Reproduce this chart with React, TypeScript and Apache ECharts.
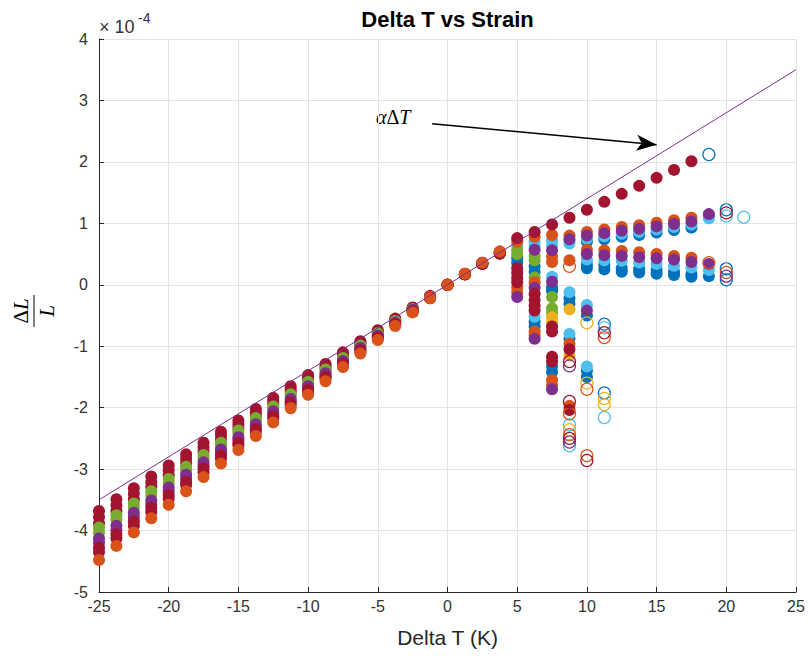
import React, { useEffect, useRef } from "react";
import * as echarts from "echarts";

// MATLAB default colour order
const BLUE = "#0072BD";
const ORANGE = "#D95319";
const YELLOW = "#EDB120";
const PURPLE = "#7E2F8E";
const GREEN = "#77AC30";
const LIGHT_BLUE = "#4DBEEE";
const DARK_RED = "#A2142F";

// Temperature steps shared by the cooling sweep (K)
const deltaT = [
  -25, -23.75, -22.5, -21.25, -20, -18.75, -17.5, -16.25, -15, -13.75, -12.5, -11.25,
  -10, -8.75, -7.5, -6.25, -5, -3.75, -2.5, -1.25, 0, 1.25, 2.5, 3.75,
];

// Strain (x1e-4) of each specimen along the cooling sweep, top to bottom
const strain1 = [-3.68, -3.49, -3.31, -3.12, -2.94, -2.76, -2.57, -2.39, -2.21, -2.02, -1.84, -1.65, -1.47, -1.29, -1.1, -0.92, -0.74, -0.55, -0.37, -0.18, 0, 0.18, 0.36, 0.54];
const strain2 = [-3.78, -3.59, -3.4, -3.21, -3.02, -2.83, -2.64, -2.45, -2.27, -2.08, -1.89, -1.7, -1.51, -1.32, -1.13, -0.94, -0.76, -0.57, -0.38, -0.19, 0, 0.17, 0.35, 0.52];
const strain3 = [-3.88, -3.68, -3.49, -3.29, -3.1, -2.91, -2.71, -2.52, -2.33, -2.13, -1.94, -1.74, -1.55, -1.36, -1.16, -0.97, -0.78, -0.58, -0.39, -0.19, 0, 0.17, 0.35, 0.52];
const strain4 = [-3.95, -3.75, -3.56, -3.36, -3.16, -2.96, -2.77, -2.57, -2.37, -2.17, -1.98, -1.78, -1.58, -1.38, -1.19, -0.99, -0.79, -0.59, -0.4, -0.2, 0, 0.17, 0.34, 0.52];
const strain5 = [-4.03, -3.82, -3.62, -3.42, -3.22, -3.02, -2.82, -2.62, -2.42, -2.21, -2.01, -1.81, -1.61, -1.41, -1.21, -1.01, -0.81, -0.6, -0.4, -0.2, 0, 0.17, 0.34, 0.51];
const strain6 = [-4.13, -3.92, -3.71, -3.51, -3.3, -3.09, -2.89, -2.68, -2.48, -2.27, -2.06, -1.86, -1.65, -1.44, -1.24, -1.03, -0.83, -0.62, -0.41, -0.21, 0, 0.17, 0.34, 0.51];
const strain7 = [-4.2, -3.99, -3.78, -3.57, -3.36, -3.15, -2.94, -2.73, -2.52, -2.31, -2.1, -1.89, -1.68, -1.47, -1.26, -1.05, -0.84, -0.63, -0.42, -0.21, 0, 0.17, 0.34, 0.51];
const strain8 = [-4.28, -4.06, -3.85, -3.63, -3.42, -3.21, -2.99, -2.78, -2.57, -2.35, -2.14, -1.92, -1.71, -1.5, -1.28, -1.07, -0.86, -0.64, -0.43, -0.21, 0, 0.17, 0.34, 0.51];
const strain9 = [-4.35, -4.13, -3.92, -3.7, -3.48, -3.26, -3.05, -2.83, -2.61, -2.39, -2.18, -1.96, -1.74, -1.52, -1.31, -1.09, -0.87, -0.65, -0.44, -0.22, 0, 0.17, 0.35, 0.52];
const strain10 = [-4.48, -4.25, -4.03, -3.8, -3.58, -3.36, -3.13, -2.91, -2.69, -2.46, -2.24, -2.01, -1.79, -1.57, -1.34, -1.12, -0.9, -0.67, -0.45, -0.22, 0, 0.18, 0.36, 0.54];

const coolingSets = [
  { color: DARK_RED, y: strain1 },
  { color: DARK_RED, y: strain2 },
  { color: DARK_RED, y: strain3 },
  { color: GREEN, y: strain4 },
  { color: GREEN, y: strain5 },
  { color: PURPLE, y: strain6 },
  { color: PURPLE, y: strain7 },
  { color: DARK_RED, y: strain8 },
  { color: DARK_RED, y: strain9 },
  { color: ORANGE, y: strain10 },
];

// Heating sweep: [deltaT, strain x1e-4], filled markers
const heatBlue = [
  [10, 0.7], [11.25, 0.74], [12.5, 0.78], [13.75, 0.81], [15, 0.85], [16.25, 0.89], [17.5, 0.93], [18.75, 1.12],
  [10, 0.33], [10, 0.27], [11.25, 0.32], [11.25, 0.25], [12.5, 0.27], [12.5, 0.21], [13.75, 0.26], [13.75, 0.2],
  [15, 0.24], [15, 0.18], [16.25, 0.21], [16.25, 0.16], [17.5, 0.17], [17.5, 0.13], [18.75, 0.14],
  [5, 0.43], [5, 0.36], [6.25, 0.3], [6.25, 0.21], [6.25, -0.6], [6.25, -0.68], [7.5, -0.04], [7.5, -0.1],
  [7.5, -1.33], [7.5, -1.42], [8.75, -0.22], [8.75, -0.31], [8.75, -0.88], [10, -0.5], [10, -1.4], [10, -1.5],
];
const heatLightBlue = [
  [5, 0.64], [6.25, 0.7], [6.25, 0.64], [7.5, 0.72], [7.5, 0.64], [8.75, 0.72], [8.75, 0.67], [10, 0.75],
  [11.25, 0.79], [12.5, 0.83], [13.75, 0.86], [15, 0.9], [16.25, 0.94], [17.5, 0.98], [18.75, 1.08],
  [10, 0.41], [11.25, 0.4], [12.5, 0.39], [13.75, 0.36], [15, 0.34], [16.25, 0.31], [17.5, 0.28], [18.75, 0.24],
  [7.5, 0.13], [8.75, -0.12], [8.75, -0.8], [10, -0.33], [10, -1.33], [6.25, -0.52],
];
const heatGreen = [
  [5, 0.56], [5, 0.5], [6.25, 0.47], [6.25, 0.4], [6.25, 0.12], [7.5, -0.2], [7.5, -0.38], [7.5, -0.45],
];
const heatYellow = [
  [7.5, -0.53], [7.5, -0.6], [8.75, -0.4], [8.75, -1.15],
];
const heatOrange = [
  [6.25, 0.78], [7.5, 0.81], [8.75, 0.8], [10, 0.86], [11.25, 0.9], [12.5, 0.94], [13.75, 0.97], [15, 1.01],
  [16.25, 1.05], [17.5, 1.09],
  [7.5, 0.46], [7.5, 0.37], [8.75, 0.4], [10, 0.57], [11.25, 0.56], [12.5, 0.55], [13.75, 0.53], [15, 0.5],
  [16.25, 0.47], [17.5, 0.44],
  [5, 0.7], [5, -0.04], [5, -0.12], [6.25, 0.04], [6.25, -0.76], [6.25, -0.82], [7.5, -1.55], [7.5, -1.63],
  [8.75, -0.96], [8.75, -1.97],
];
const heatPurple = [
  [8.75, 0.74], [10, 0.8], [11.25, 0.84], [12.5, 0.88], [13.75, 0.91], [15, 0.95], [16.25, 0.99], [17.5, 1.03], [18.75, 1.15],
  [10, 0.5], [11.25, 0.48], [12.5, 0.47], [13.75, 0.45], [15, 0.43], [16.25, 0.41], [17.5, 0.37], [18.75, 0.34],
  [5, -0.2], [6.25, 0.57], [6.25, -0.05], [6.25, -0.88], [7.5, 0.56], [7.5, 0.05], [7.5, -1.7], [10, -0.42],
];
const heatDarkRed = [
  [5, 0.76], [6.25, 0.86], [7.5, 0.98], [8.75, 1.09], [10, 1.22], [11.25, 1.35], [12.5, 1.48], [13.75, 1.61],
  [15, 1.74], [16.25, 1.87], [17.5, 2.01],
  [5, 0.27], [5, 0.19], [5, 0.11], [5, 0.04], [6.25, -0.15], [6.25, -0.25], [6.25, -0.34], [6.25, -0.42],
  [7.5, -0.68], [7.5, -0.76], [7.5, -1.17], [7.5, -1.25], [8.75, -1.05], [8.75, -2.04],
];

// Heating sweep, open markers
const openBlue = [[18.75, 2.12], [20, 1.22], [20, 0.26], [20, 0.08], [11.25, -0.64], [11.25, -1.76]];
const openLightBlue = [[20, 1.12], [21.25, 1.1], [8.75, -2.28], [8.75, -2.62], [11.25, -0.7], [11.25, -2.16]];
const openYellow = [[8.75, -2.36], [10, -0.62], [10, -1.6], [11.25, -1.85], [11.25, -1.95]];
const openOrange = [[20, 0.2], [18.75, 0.36], [8.75, 0.3], [8.75, -2.1], [8.75, -2.44], [10, -1.7], [10, -2.78], [11.25, -0.86]];
const openPurple = [[20, 0.14], [8.75, -1.32], [8.75, -2.56]];
const openDarkRed = [[20, 1.17], [8.75, -1.25], [8.75, -1.9], [8.75, -2.5], [10, -2.86], [11.25, -0.78]];

// Free thermal expansion alpha*deltaT (x1e-4)
const alphaLine = [[-25, -3.5], [25, 3.5]];
const arrowFrom = [-1.1, 2.62];
const arrowTo = [15.0, 2.28];

const xTicks = { min: -25, max: 25, step: 5 };
const yTicks = { min: -5, max: 4, step: 1 };

const SANS = '"Liberation Sans", Arial, Helvetica, sans-serif';
const SERIF = '"Liberation Serif", "DejaVu Serif", serif';

const filled = (color: string, data: number[][]) => ({
  type: "scatter",
  data,
  symbol: "circle",
  symbolSize: 12,
  itemStyle: { color, opacity: 1 },
  silent: true,
});

const hollow = (color: string, data: number[][]) => ({
  type: "scatter",
  data,
  symbol: "circle",
  symbolSize: 12,
  itemStyle: { color: "rgba(255,255,255,0)", borderColor: color, borderWidth: 1.2, opacity: 1 },
  silent: true,
});

export default function App() {
  const ref = useRef<HTMLDivElement>(null);

  useEffect(() => {
    if (!ref.current) return;
    const chart = echarts.init(ref.current, undefined, { renderer: "svg" });

    const series: any[] = [];
    coolingSets.forEach((s) => {
      series.push(filled(s.color, deltaT.map((t, i) => [t, s.y[i]])));
    });
    series.push(filled(BLUE, heatBlue));
    series.push(filled(LIGHT_BLUE, heatLightBlue));
    series.push(filled(GREEN, heatGreen));
    series.push(filled(YELLOW, heatYellow));
    series.push(filled(ORANGE, heatOrange));
    series.push(filled(PURPLE, heatPurple));
    series.push(filled(DARK_RED, heatDarkRed));
    series.push(hollow(BLUE, openBlue));
    series.push(hollow(LIGHT_BLUE, openLightBlue));
    series.push(hollow(YELLOW, openYellow));
    series.push(hollow(ORANGE, openOrange));
    series.push(hollow(PURPLE, openPurple));
    series.push(hollow(DARK_RED, openDarkRed));

    series.push({
      type: "line",
      data: alphaLine,
      symbol: "none",
      lineStyle: { color: PURPLE, width: 1 },
      silent: true,
      markLine: {
        silent: true,
        animation: false,
        symbol: ["none", "arrow"],
        symbolSize: [12, 20],
        label: { show: false },
        lineStyle: { color: "#000", width: 1.5, type: "solid" },
        data: [[{ coord: arrowFrom }, { coord: arrowTo }]],
      },
    });

    chart.setOption({
      animation: false,
      backgroundColor: "#fff",
      grid: { left: 99, right: 13, top: 39, bottom: 68, containLabel: false },
      xAxis: {
        type: "value",
        min: xTicks.min,
        max: xTicks.max,
        interval: xTicks.step,
        name: "Delta T (K)",
        nameLocation: "middle",
        nameGap: 35,
        nameTextStyle: { fontFamily: SANS, fontSize: 21, color: "#262626" },
        axisLine: { show: true, onZero: false, lineStyle: { color: "#262626", width: 1 } },
        axisTick: { show: true, inside: true, length: 5, lineStyle: { color: "#262626" } },
        axisLabel: { fontFamily: SANS, fontSize: 16, color: "#333", margin: 6 },
        splitLine: { show: true, lineStyle: { color: "#e3e3e3", width: 1 } },
      },
      yAxis: {
        type: "value",
        min: yTicks.min,
        max: yTicks.max,
        interval: yTicks.step,
        axisLine: { show: true, onZero: false, lineStyle: { color: "#262626", width: 1 } },
        axisTick: { show: true, inside: true, length: 5, lineStyle: { color: "#262626" } },
        axisLabel: { fontFamily: SANS, fontSize: 16, color: "#333", margin: 11 },
        splitLine: { show: true, lineStyle: { color: "#e3e3e3", width: 1 } },
      },
      graphic: [
        {
          type: "text",
          x: 447.5,
          y: 19,
          style: {
            text: "Delta T vs Strain",
            fontFamily: SANS,
            fontWeight: "bold",
            fontSize: 22,
            fill: "#000",
            align: "center",
            verticalAlign: "middle",
          },
        },
        {
          type: "text",
          x: 99,
          y: 27,
          style: {
            text: "× 10",
            fontFamily: SANS,
            fontSize: 18,
            fill: "#333",
            align: "left",
            verticalAlign: "middle",
          },
        },
        {
          type: "text",
          x: 138,
          y: 18,
          style: {
            text: "-4",
            fontFamily: SANS,
            fontSize: 14,
            fill: "#333",
            align: "left",
            verticalAlign: "middle",
          },
        },
        {
          type: "text",
          x: 376,
          y: 117,
          style: {
            text: "{i|α}{n|Δ}{i|T}",
            align: "left",
            verticalAlign: "middle",
            rich: {
              i: { fontFamily: SERIF, fontStyle: "italic", fontSize: 20, fill: "#000" },
              n: { fontFamily: SERIF, fontSize: 20, fill: "#000" },
            },
          },
        },
        {
          type: "group",
          x: 34,
          y: 311,
          rotation: Math.PI / 2,
          children: [
            {
              type: "text",
              x: 0,
              y: -3,
              style: {
                text: "{n|Δ}{i|L}",
                align: "center",
                verticalAlign: "bottom",
                rich: {
                  i: { fontFamily: SERIF, fontStyle: "italic", fontSize: 21, fill: "#000" },
                  n: { fontFamily: SERIF, fontSize: 21, fill: "#000" },
                },
              },
            },
            {
              type: "line",
              shape: { x1: -16, y1: 0, x2: 16, y2: 0 },
              style: { stroke: "#000", lineWidth: 1 },
            },
            {
              type: "text",
              x: 0,
              y: 2,
              style: {
                text: "L",
                fontFamily: SERIF,
                fontStyle: "italic",
                fontSize: 21,
                fill: "#000",
                align: "center",
                verticalAlign: "top",
              },
            },
          ],
        },
      ],
      series,
    });

    return () => chart.dispose();
  }, []);

  return (
    <div
      ref={ref}
      style={{ position: "absolute", left: 0, top: 0, width: 809, height: 660, background: "#fff" }}
    />
  );
}
